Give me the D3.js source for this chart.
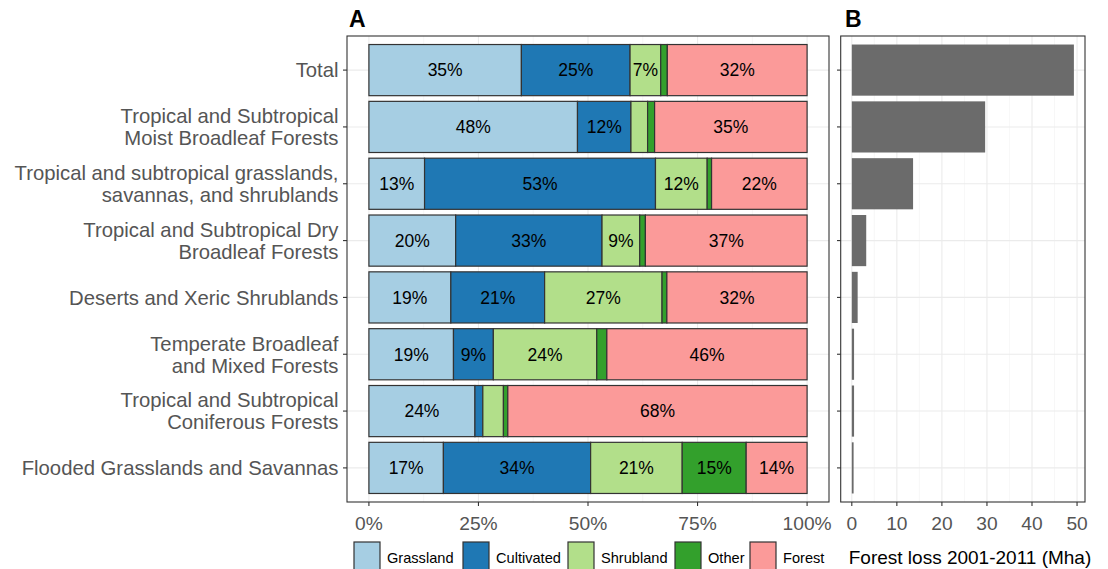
<!DOCTYPE html>
<html>
<head>
<meta charset="utf-8">
<script src="https://d3js.org/d3.v7.min.js"></script>
<style>
  body { margin: 0; background: #fff; }
  svg { display: block; font-family: "Liberation Sans", Arial, sans-serif; }
</style>
</head>
<body>
<div id="chart"></div>
<script>
// biome names, top to bottom (multi-line labels split on "|")
const biomes = [
    'Total',
    'Tropical and Subtropical|Moist Broadleaf Forests',
    'Tropical and subtropical grasslands,|savannas, and shrublands',
    'Tropical and Subtropical Dry|Broadleaf Forests',
    'Deserts and Xeric Shrublands',
    'Temperate Broadleaf|and Mixed Forests',
    'Tropical and Subtropical|Coniferous Forests',
    'Flooded Grasslands and Savannas'
];

const covers = ['Grassland', 'Cultivated', 'Shrubland', 'Other', 'Forest'];
const coverColors = ['#a6cee3', '#1f78b4', '#b2df8a', '#33a02c', '#fb9a99'];

// share (%) of each cover class, one array per class, in biome order
const grassland  = [34.8, 47.6, 12.7, 19.8, 18.7, 19.3, 24.2, 17.0];
const cultivated = [24.8, 12.2, 52.7, 33.4, 21.4,  9.1,  1.8, 33.6];
const shrubland  = [ 7.0,  3.8, 11.8,  8.6, 26.8, 23.6,  4.7, 20.9];
const other      = [ 1.5,  1.6,  1.0,  1.3,  1.1,  2.3,  1.0, 14.6];
const forest     = [31.9, 34.8, 21.8, 36.9, 32.0, 45.7, 68.3, 13.9];

// forest loss 2001-2011 in Mha
const forestLoss = [49.3, 29.6, 13.6, 3.2, 1.3, 0.5, 0.5, 0.4];

const pctTicks = [0, 25, 50, 75, 100];
const pctMinor = [12.5, 37.5, 62.5, 87.5];
const lossTicks = [0, 10, 20, 30, 40, 50];
const lossMinor = [5, 15, 25, 35, 45];

const W = 1108, H = 569;
const txtGrey = '#555';
const svg = d3.select('#chart').append('svg').attr('width', W).attr('height', H);

const yTop = 36, yBot = 502;
const y = d3.scaleBand().domain(biomes).range([yTop, yBot]).paddingInner(0.1).paddingOuter(0.15);
const mid = d => y(d) + y.bandwidth() / 2;

// ---------- panel A ----------
const xA = d3.scaleLinear().domain([-5, 105]).range([347, 829]);
const gA = svg.append('g');

gA.selectAll('.minor').data(pctMinor).enter().append('line')
    .attr('x1', d => xA(d)).attr('x2', d => xA(d)).attr('y1', yTop).attr('y2', yBot)
    .attr('stroke', '#f2f2f2').attr('stroke-width', 0.6);
gA.selectAll('.major').data(pctTicks).enter().append('line')
    .attr('x1', d => xA(d)).attr('x2', d => xA(d)).attr('y1', yTop).attr('y2', yBot)
    .attr('stroke', '#ebebeb').attr('stroke-width', 1.1);
gA.selectAll('.hgrid').data(biomes).enter().append('line')
    .attr('x1', 347).attr('x2', 829)
    .attr('y1', mid).attr('y2', mid)
    .attr('stroke', '#ebebeb').attr('stroke-width', 1.1);

const rows = biomes.map((b, i) => {
    const vals = [grassland[i], cultivated[i], shrubland[i], other[i], forest[i]];
    let acc = 0;
    return vals.map((v, k) => {
        const seg = { biome: b, cover: k, x0: acc, x1: acc + v, v: v };
        acc += v;
        return seg;
    });
});
const segs = rows.flat();

gA.selectAll('rect.seg').data(segs).enter().append('rect')
    .attr('x', d => xA(d.x0)).attr('width', d => xA(d.x1) - xA(d.x0))
    .attr('y', d => y(d.biome)).attr('height', y.bandwidth())
    .attr('fill', d => coverColors[d.cover])
    .attr('stroke', '#333').attr('stroke-width', 1.2);

gA.selectAll('text.lab').data(segs.filter(d => d.v >= 5)).enter().append('text')
    .attr('x', d => xA((d.x0 + d.x1) / 2)).attr('y', d => mid(d.biome))
    .attr('dy', '0.36em').attr('text-anchor', 'middle')
    .attr('font-size', 17.5).attr('fill', '#000')
    .text(d => Math.round(d.v) + '%');

gA.append('rect').attr('x', 347).attr('y', yTop).attr('width', 829 - 347).attr('height', yBot - yTop)
    .attr('fill', 'none').attr('stroke', '#333').attr('stroke-width', 1.1);

// y axis labels
const yTicks = gA.selectAll('.ytick').data(biomes).enter().append('g')
    .attr('transform', d => `translate(0,${mid(d)})`);
yTicks.append('line').attr('x1', 343).attr('x2', 347).attr('stroke', '#333').attr('stroke-width', 1.1);
yTicks.append('text')
    .attr('text-anchor', 'end').attr('font-size', 20.3).attr('fill', txtGrey)
    .each(function (d) {
        const lines = d.split('|');
        const t = d3.select(this);
        lines.forEach((l, i) => {
            t.append('tspan').attr('x', 338.5)
                .attr('y', (i - (lines.length - 1) / 2) * 22)
                .attr('dy', '0.36em').text(l);
        });
    });

// x axis
const xTicksA = gA.selectAll('.xtick').data(pctTicks).enter().append('g')
    .attr('transform', d => `translate(${xA(d)},${yBot})`);
xTicksA.append('line').attr('y1', 0).attr('y2', 4).attr('stroke', '#333').attr('stroke-width', 1.1);
xTicksA.append('text').attr('y', 21).attr('dy', '0.36em').attr('text-anchor', 'middle')
    .attr('font-size', 19.2).attr('fill', txtGrey).text(d => d + '%');

svg.append('text').attr('x', 349).attr('y', 27).attr('font-size', 23).attr('font-weight', 'bold').text('A');

// legend
const legX = [354, 463, 568, 675, 750];
const leg = svg.selectAll('.leg').data(covers).enter().append('g')
    .attr('transform', (d, i) => `translate(${legX[i]},542)`);
leg.append('rect').attr('width', 26).attr('height', 30)
    .attr('fill', (d, i) => coverColors[i]).attr('stroke', '#333').attr('stroke-width', 1.2);
leg.append('text').attr('x', 33).attr('y', 16).attr('dy', '0.36em')
    .attr('font-size', 14.6).attr('fill', '#000').text(d => d);

// ---------- panel B ----------
const xB = d3.scaleLinear().domain([-0.05 * d3.max(forestLoss), 1.05 * d3.max(forestLoss)]).range([840.7, 1085]);
const gB = svg.append('g');

gB.selectAll('.minor').data(lossMinor).enter().append('line')
    .attr('x1', d => xB(d)).attr('x2', d => xB(d)).attr('y1', yTop).attr('y2', yBot)
    .attr('stroke', '#f2f2f2').attr('stroke-width', 0.6);
gB.selectAll('.major').data(lossTicks).enter().append('line')
    .attr('x1', d => xB(d)).attr('x2', d => xB(d)).attr('y1', yTop).attr('y2', yBot)
    .attr('stroke', '#ebebeb').attr('stroke-width', 1.1);
gB.selectAll('.hgrid').data(biomes).enter().append('line')
    .attr('x1', 840.7).attr('x2', 1085)
    .attr('y1', mid).attr('y2', mid)
    .attr('stroke', '#ebebeb').attr('stroke-width', 1.1);

gB.selectAll('rect.bar').data(biomes).enter().append('rect')
    .attr('x', xB(0)).attr('width', (d, i) => xB(forestLoss[i]) - xB(0))
    .attr('y', d => y(d)).attr('height', y.bandwidth())
    .attr('fill', '#6b6b6b');

gB.append('rect').attr('x', 840.7).attr('y', yTop).attr('width', 1085 - 840.7).attr('height', yBot - yTop)
    .attr('fill', 'none').attr('stroke', '#333').attr('stroke-width', 1.1);

gB.selectAll('.ytick').data(biomes).enter().append('line')
    .attr('x1', 837).attr('x2', 840.7)
    .attr('y1', mid).attr('y2', mid)
    .attr('stroke', '#333').attr('stroke-width', 1.1);

const xTicksB = gB.selectAll('.xtick').data(lossTicks).enter().append('g')
    .attr('transform', d => `translate(${xB(d)},${yBot})`);
xTicksB.append('line').attr('y1', 0).attr('y2', 4).attr('stroke', '#333').attr('stroke-width', 1.1);
xTicksB.append('text').attr('y', 21).attr('dy', '0.36em').attr('text-anchor', 'middle')
    .attr('font-size', 19.2).attr('fill', txtGrey).text(d => d);

svg.append('text').attr('x', 970).attr('y', 557).attr('dy', '0.36em')
    .attr('text-anchor', 'middle').attr('font-size', 19).attr('fill', '#000')
    .text('Forest loss 2001-2011 (Mha)');

svg.append('text').attr('x', 845).attr('y', 27).attr('font-size', 23).attr('font-weight', 'bold').text('B');
</script>
</body>
</html>
